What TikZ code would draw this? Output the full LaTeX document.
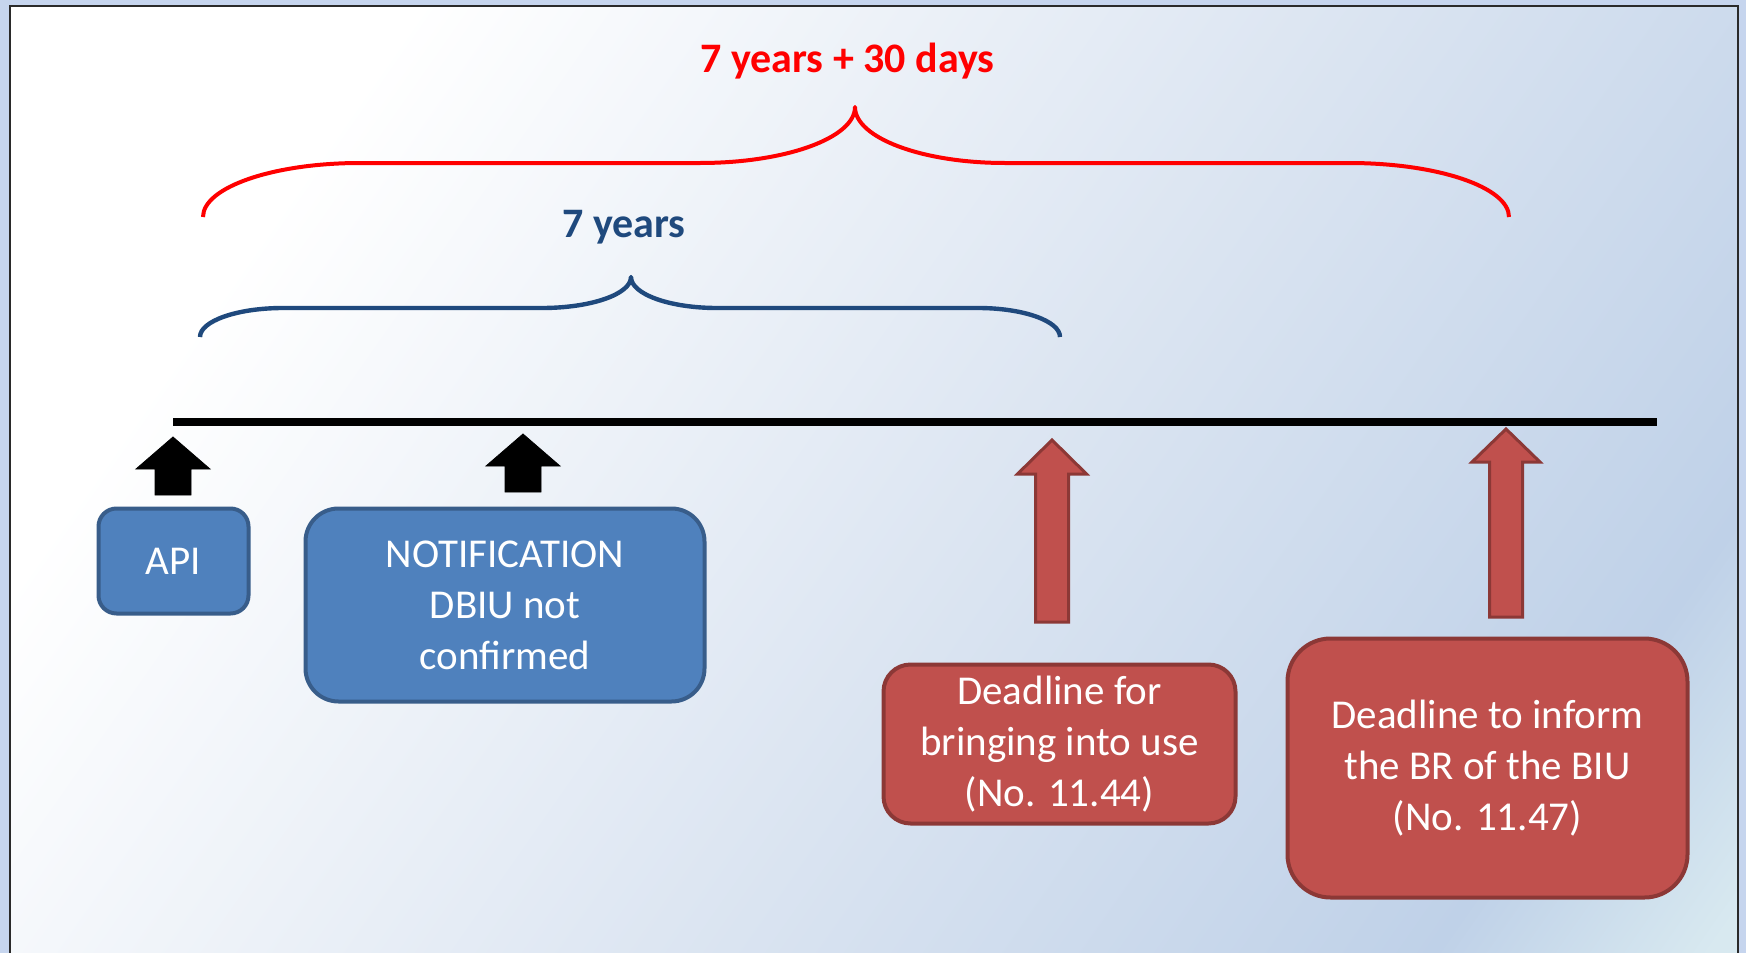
\documentclass[tikz,border=0pt]{standalone}
\usepackage{fontspec}
\setmainfont{Carlito}
\definecolor{outerbg}{HTML}{C6D5EE}
\definecolor{framecol}{HTML}{2A2A2A}
\definecolor{bluefill}{HTML}{4F81BD}
\definecolor{blueline}{HTML}{385D8A}
\definecolor{redfill}{HTML}{C0504D}
\definecolor{redline}{HTML}{8C3836}
\definecolor{bracered}{HTML}{FF0000}
\definecolor{braceblue}{HTML}{1F497D}
\definecolor{bgA}{HTML}{FFFFFF}
\definecolor{bgB}{HTML}{DDE6F2}
\definecolor{bgC}{HTML}{BFD1E8}
\definecolor{bgD}{HTML}{D8E9F0}
\pgfdeclarehorizontalshading{framebg}{100bp}{color(0bp)=(bgA); color(27bp)=(bgA); color(53bp)=(bgB); color(76bp)=(bgC); color(84bp)=(bgD); color(100bp)=(bgD)}
\newcommand\blockarrow[7]{%
  \draw[#1] (#2,#3) -- ({#2+#6},#4) -- ({#2+#7},#4) -- ({#2+#7},#5)
    -- ({#2-#7},#5) -- ({#2-#7},#4) -- ({#2-#6},#4) -- cycle;}
\begin{document}
\begin{tikzpicture}[x=0.5pt,y=-0.5pt,
  boxtext/.style={text=white, align=center, inner sep=0pt,
    font=\fontsize{20.5pt}{25.5pt}\selectfont},
  bluebox/.style={boxtext, draw=blueline, fill=bluefill, line width=2pt},
  redbox/.style={boxtext, draw=redline, fill=redfill, line width=2pt},
  blackarrow/.style={fill=black},
  redarrow/.style={fill=redfill, draw=redline, line width=1.5pt, line join=miter},
  redbrace/.style={draw=bracered, line width=2pt, line join=round},
  bluebrace/.style={draw=braceblue, line width=2.2pt, line join=round},
  bracelabel/.style={anchor=base, inner sep=0pt, font=\bfseries\fontsize{21pt}{26pt}\selectfont}]
\useasboundingbox (0,0) rectangle (1746,953);
\fill[outerbg] (0,0) rectangle (1746,953);
\shade[shading=framebg, shading angle=-35] (10,6) rectangle (1738,953);
\draw[framecol, line width=1.2pt] (10,960) -- (10,6) -- (1738,6) -- (1738,960);

% red brace
\coordinate (r1) at (203,217);
\coordinate (r2) at (360,163);
\coordinate (r3) at (700,163);
\coordinate (rt) at (855,107);
\coordinate (r4) at (1005,163);
\coordinate (r5) at (1349,163);
\coordinate (r6) at (1509,217);
\draw[redbrace] (r1) .. controls (203,187.2) and (273.3,163) .. (r2) -- (r3)
  .. controls (785.6,163) and (855,137.9) .. (rt)
  .. controls (855,137.9) and (922.2,163) .. (r4) -- (r5)
  .. controls (1437.4,163) and (1509,187.2) .. (r6);
\node[bracelabel, text=bracered] (lblred) at (847.5,72) {7 years + 30 days};

% blue brace
\coordinate (b1) at (200,337);
\coordinate (b2) at (283,308);
\coordinate (b3) at (542,308);
\coordinate (bt) at (631,277);
\coordinate (b4) at (717,308);
\coordinate (b5) at (978,308);
\coordinate (b6) at (1060,337);
\draw[bluebrace] (b1) .. controls (200,321) and (237.2,308) .. (b2) -- (b3)
  .. controls (591.2,308) and (631,294.1) .. (bt)
  .. controls (631,294.1) and (669.5,308) .. (b4) -- (b5)
  .. controls (1023.3,308) and (1060,321) .. (b6);
\node[bracelabel, text=braceblue] (lblblue) at (624,237) {7 years};

% timeline
\coordinate (tl0) at (173,422);
\coordinate (tl1) at (1657,422);
\draw[line width=4pt] (tl0) -- (tl1);

% arrows
\blockarrow{blackarrow}{173}{437}{469}{495}{37}{18}
\blockarrow{blackarrow}{523}{434}{466}{492}{37}{18}
\blockarrow{redarrow}{1052}{440}{474}{622}{34.5}{16.5}
\blockarrow{redarrow}{1506}{429}{462}{617}{34}{16.5}

% boxes
\node[bluebox, minimum width=75pt, minimum height=52.5pt, rounded corners=9pt] (api) at (173.5,561) {API};
\node[bluebox, minimum width=199.5pt, minimum height=96.5pt, rounded corners=16.5pt] (notif) at (505,605) {NOTIFICATION\\DBIU not\\confirmed};
\node[redbox, minimum width=176pt, minimum height=79.5pt, rounded corners=13.5pt] (biu) at (1059.5,744) {Deadline for\\bringing into use\\(No. 11.44)};
\node[redbox, minimum width=200pt, minimum height=129.5pt, rounded corners=21.5pt] (inform) at (1487.5,768) {Deadline to inform\\the BR of the BIU\\(No. 11.47)};
\end{tikzpicture}
\end{document}
